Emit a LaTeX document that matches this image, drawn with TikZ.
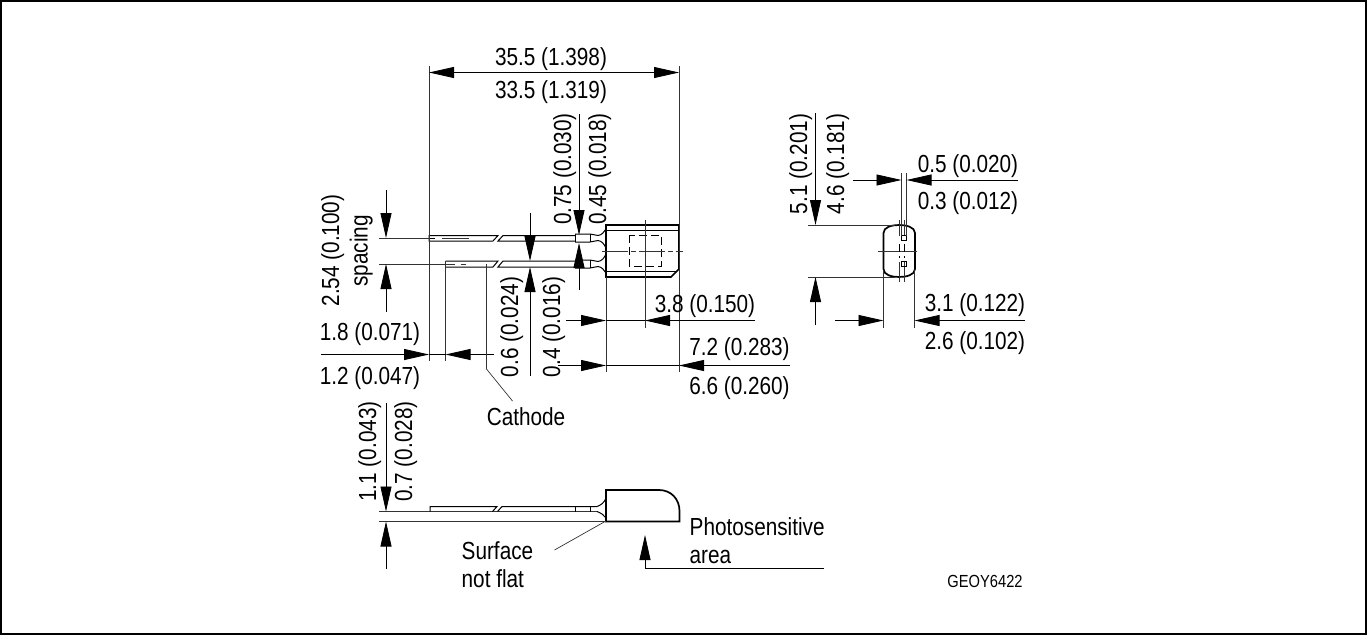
\documentclass[tikz,border=0pt]{standalone}
\usepackage{fontspec}
\setmainfont[FakeStretch=0.84]{Liberation Sans}
\usetikzlibrary{arrows.meta, positioning, calc}

\tikzset{
  dimtext/.style={inner sep=0pt, text height=18pt, text depth=0pt, font=\fontsize{24.7}{28}\selectfont},
  labeltext/.style={dimtext, anchor=west},
  dimline/.style={line width=0.8pt, draw=black},
  thinline/.style={line width=0.7pt, draw=black!80},
  bodyline/.style={line width=1.7pt},
  leadline/.style={line width=1pt},
  hidden/.style={line width=0.7pt, dash pattern=on 8pt off 4pt},
  centreline/.style={line width=0.7pt, draw=black!80, dash pattern=on 26pt off 3pt on 5pt off 3pt}
}

\begin{document}
\begin{tikzpicture}[x=1pt, y=-1pt, >={Triangle[length=25pt, width=11pt]}]
\useasboundingbox (0,0) rectangle (1367,635);

% Frame
\draw[line width=1.4pt] (1,1) rectangle (1366,634);

% Top view: body
\draw[bodyline] (606,225) -- (679,225) -- (679,269) -- (671,277) -- (606,277) -- cycle;
\draw[bodyline] (606,230.5) -- (679,230.5);
\draw[bodyline] (606,271.5) -- (676,271.5);
\draw[hidden] (629,235) rectangle (661,266);
\draw[centreline] (602,251) -- (683,251);
\draw[thinline] (645,220) -- (645,328);

% Top view: upper lead
\draw[leadline] (429,235.5) -- (498,235.5) -- (493,241) -- (429,241) -- cycle;
\draw[leadline] (575,235.5) -- (503,235.5) -- (498,241) -- (575,241);
\draw[line width=1pt] (429,238.3) -- (435,238.3);
\draw[thinline] (441.5,238.3) -- (468.5,238.3);
\draw[leadline] (575,234) -- (590,234) -- (598,235.5) .. controls (602,235) and (604,232) .. (606,229);
\draw[leadline] (575,242) -- (590,242) -- (598,240.5) .. controls (602,241) and (604,244) .. (606,248);
\draw[leadline] (575,234) -- (575,242) (590,234) -- (590,242);

% Top view: lower lead
\draw[leadline] (445.5,261) -- (498,261) -- (493,267) -- (445.5,267);
\draw[leadline] (575,261) -- (503,261) -- (498,267) -- (575,267);
\draw[thinline] (460.5,264) -- (466,264);
\draw[leadline] (575,260) -- (590,260) -- (598,261.5) .. controls (602,261) and (604,258) .. (606,254);
\draw[leadline] (575,268) -- (590,268) -- (598,266.5) .. controls (602,267) and (604,270) .. (606,273);
\draw[leadline] (575,260) -- (575,268) (590,260) -- (590,268);

% Extension lines
\draw[thinline] (429,66) -- (429,361);
\draw[thinline] (679,66) -- (679,372);
\draw[thinline] (445.5,261) -- (445.5,361);
\draw[thinline] (606,277) -- (606,372);
\draw[thinline] (379,238) -- (429,238);
\draw[thinline] (379,264) -- (455,264);

% 35.5 / 33.5
\draw[dimline, <->] (429,72.5) -- (679,72.5);
\node[dimtext] (toplen) at (551,56) {35.5 (1.398)};
\node[dimtext] (toplenb) at (551,89) {33.5 (1.319)};

% 2.54 spacing
\draw[dimline, ->] (386,190) -- (386,238);
\draw[dimline, ->] (386,312) -- (386,264);
\node[dimtext, rotate=90] (pitch) at (330,250.5) {2.54 (0.100)};
\node[dimtext, rotate=90, text height=18pt, text depth=5pt] (pitchb) at (361,251) {spacing};

% 0.6 / 0.4
\draw[dimline, ->] (530,213) -- (530,261);
\draw[dimline, ->] (530,376) -- (530,267);
\node[dimtext, rotate=90] (leadw) at (509,327) {0.6 (0.024)};
\node[dimtext, rotate=90] (leadwb) at (551,327) {0.4 (0.016)};

% 0.75 / 0.45
\draw[dimline, ->] (579,114) -- (579,235);
\draw[dimline, ->] (579,290) -- (579,243);
\node[dimtext, rotate=90] (collar) at (562,169) {0.75 (0.030)};
\node[dimtext, rotate=90] (collarb) at (597,169) {0.45 (0.018)};

% 1.8 / 1.2
\draw[dimline, ->] (321,354.5) -- (429,354.5);
\draw[dimline, ->] (494,354.5) -- (445.5,354.5);
\draw[dimline] (429,354.5) -- (445.5,354.5);
\node[dimtext] (offset) at (370,331.5) {1.8 (0.071)};
\node[dimtext] (offsetb) at (370,375) {1.2 (0.047)};

% Cathode
\node[dimtext] (cathode) at (526,416) {Cathode};
\coordinate (cathodeend) at (512.5,401);
\draw[thinline] (486.5,264) -- (486.5,369) -- (cathodeend);

% 3.8
\draw[dimline, ->] (566,320.5) -- (606,320.5);
\draw[dimline, ->] (755,320.5) -- (645,320.5);
\draw[dimline] (606,320.5) -- (645,320.5);
\node[dimtext] (depth) at (705,303) {3.8 (0.150)};

% 7.2 / 6.6
\draw[dimline, ->] (558,365.5) -- (606,365.5);
\draw[dimline, ->] (790,365.5) -- (679,365.5);
\draw[dimline] (606,365.5) -- (679,365.5);
\node[dimtext] (width) at (739.5,346) {7.2 (0.283)};
\node[dimtext] (widthb) at (739.5,385) {6.6 (0.260)};

% Side view: body
\draw[bodyline] (883.5,233) .. controls (883.5,227) and (892,225) .. (899,225)
  .. controls (906,225) and (915,227) .. (915,233) -- (915,269)
  .. controls (915,275) and (906,277) .. (899,277)
  .. controls (892,277) and (883.5,275) .. (883.5,269) -- cycle;
\draw[thinline] (878,251) -- (917,251);
\draw[thinline] (899,220) -- (899,236) (904,220) -- (904,236);
\draw[thinline] (899,262) -- (899,282) (904,262) -- (904,282);
\draw[hidden] (899,244) -- (899,258) (904,244) -- (904,258);
\draw[leadline] (901.5,235.5) rectangle (906.5,240.5);
\draw[leadline] (901.5,261.5) rectangle (906.5,266.5);

% Side view: extension lines
\draw[thinline] (901.5,173) -- (901.5,236);
\draw[thinline] (906.5,173) -- (906.5,236);
\draw[thinline] (808,225) -- (895,225);
\draw[thinline] (808,277) -- (895,277);
\draw[thinline] (883.5,270) -- (883.5,328);
\draw[thinline] (914.5,270) -- (914.5,328);

% 0.5 / 0.3
\draw[dimline, ->] (853,180) -- (901.5,180);
\draw[dimline, ->] (1018,180) -- (906.5,180);
\node[dimtext] (pin) at (968,163) {0.5 (0.020)};
\node[dimtext] (pinb) at (968,200) {0.3 (0.012)};

% 5.1 / 4.6
\draw[dimline, ->] (815.5,113) -- (815.5,225);
\draw[dimline, ->] (815.5,325) -- (815.5,277);
\node[dimtext, rotate=90] (height) at (798,164) {5.1 (0.201)};
\node[dimtext, rotate=90] (heightb) at (835,164) {4.6 (0.181)};

% 3.1 / 2.6
\draw[dimline, ->] (835,320.5) -- (883.5,320.5);
\draw[dimline, ->] (1025,320.5) -- (914.5,320.5);
\node[dimtext] (thick) at (975,302) {3.1 (0.122)};
\node[dimtext] (thickb) at (975,340) {2.6 (0.102)};

% Bottom view: body
\draw[bodyline] (606,490) -- (659,490) .. controls (671,490) and (679.5,499) .. (679.5,511) -- (679.5,521.5) -- (606,521.5) -- cycle;

% Bottom view: lead
\draw[thinline] (379,511.5) -- (598,511.5);
\draw[thinline] (379,521.5) -- (606,521.5);
\draw[leadline] (430,511.5) -- (430,506.5) -- (497,506.5) -- (492.5,511.5);
\draw[leadline] (497.5,511.5) -- (502,506.5) -- (597,506.5) .. controls (601,505) and (604,503) .. (606,498);
\draw[leadline] (575,506.5) -- (575,511.5) (590.5,506.5) -- (590.5,511.5);
\draw[leadline] (597,511.5) .. controls (601,513) and (604,515) .. (606,518);

% 1.1 / 0.7
\draw[dimline, ->] (386,403) -- (386,511.5);
\draw[dimline, ->] (386,569) -- (386,521.5);
\node[dimtext, rotate=90] (flat) at (367,451.5) {1.1 (0.043)};
\node[dimtext, rotate=90] (flatb) at (403,451.5) {0.7 (0.028)};

% Surface not flat
\node[labeltext] (surface) at (461.5,550) {Surface};
\node[labeltext] (notflat) at (461.5,578) {not flat};
\coordinate (surfaceend) at (554.5,550);
\draw[thinline] (surfaceend) -- (605,521.5);

% Photosensitive area
\node[labeltext] (photo) at (689.5,526.5) {Photosensitive};
\node[labeltext] (photob) at (689.5,554) {area};
\draw[dimline, ->] (824,568.5) -- (645,568.5) -- (645,535);

% Drawing number
\node[inner sep=0pt, font=\fontsize{17.5}{20}\selectfont] (drawno) at (985,581) {GEOY6422};

\end{tikzpicture}
\end{document}
